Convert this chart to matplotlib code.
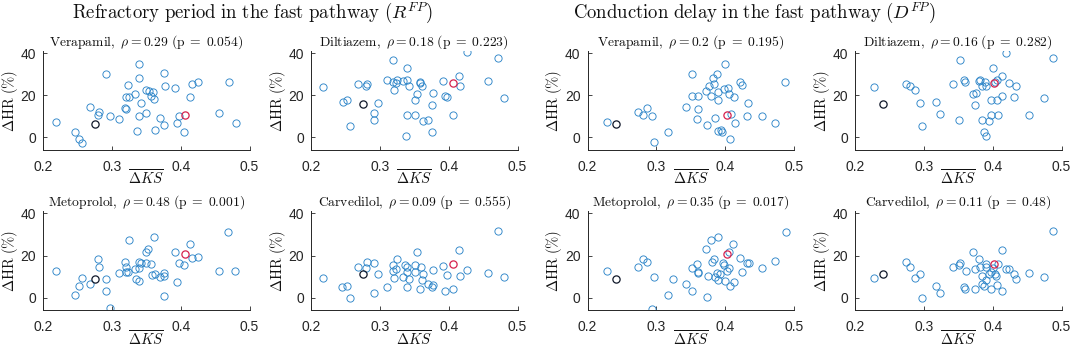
import matplotlib.pyplot as plt

plt.rcParams['mathtext.fontset'] = 'cm'
plt.rcParams['font.family'] = ['Liberation Sans', 'DejaVu Sans']

# --- Data (dKS mean vs. heart-rate change) ---
# Left group: x = dKS for refractory period (R^FP)
ver_R_x = [0.219, 0.246, 0.252, 0.257, 0.268, 0.280, 0.281, 0.291, 0.297, 0.311, 0.319, 0.320, 0.320, 0.324,
           0.325, 0.333, 0.337, 0.339, 0.340, 0.340, 0.342, 0.350, 0.350, 0.354, 0.357, 0.360, 0.361, 0.363,
           0.370, 0.376, 0.377, 0.376, 0.392, 0.394, 0.397, 0.405, 0.414, 0.416, 0.425, 0.456, 0.470, 0.480]
ver_R_y = [7.3, 2.7, -1.0, -2.5, 14.3, 10.5, 11.9, 30.3, 10.2, 8.7, 13.8, 13.6, 19.4, 24.9,
           19.2, 20.5, 3.0, 10.3, 34.9, 28.1, 16.2, 11.4, 22.5, 22.1, 19.5, 21.4, 18.1, 3.5,
           9.0, 30.5, 24.3, 6.0, 23.7, 6.7, 10.2, 2.5, 19.0, 25.2, 26.2, 11.4, 26.2, 7.0]

dil_R_x = [0.218, 0.246, 0.253, 0.257, 0.268, 0.280, 0.282, 0.291, 0.291, 0.297, 0.311, 0.319, 0.319, 0.320,
           0.324, 0.325, 0.333, 0.338, 0.339, 0.340, 0.340, 0.342, 0.351, 0.351, 0.354, 0.358, 0.359, 0.361,
           0.363, 0.370, 0.376, 0.376, 0.377, 0.392, 0.394, 0.397, 0.406, 0.415, 0.416, 0.426, 0.457, 0.471, 0.480]
dil_R_y = [24.0, 16.9, 17.9, 5.5, 25.3, 24.2, 25.3, 11.4, 8.4, 16.1, 27.4, 36.7, 26.3, 22.5,
           25.8, 27.2, 26.6, 0.5, 10.8, 33.2, 27.4, 24.4, 10.4, 17.9, 20.7, 26.3, 25.8, 24.4,
           7.8, 8.2, 15.3, 2.5, 20.9, 26.9, 19.8, 19.0, 10.4, 29.1, 24.5, 40.5, 26.9, 37.7, 18.7]

met_R_x = [0.219, 0.246, 0.252, 0.257, 0.268, 0.280, 0.281, 0.291, 0.291, 0.297, 0.311, 0.319, 0.320, 0.320,
           0.324, 0.325, 0.333, 0.335, 0.339, 0.339, 0.340, 0.342, 0.350, 0.350, 0.353, 0.357, 0.359, 0.361,
           0.363, 0.370, 0.376, 0.376, 0.376, 0.392, 0.394, 0.397, 0.405, 0.414, 0.416, 0.425, 0.456, 0.469, 0.479]
met_R_y = [12.6, 1.1, 5.5, 9.5, 6.3, 18.5, 14.4, 8.7, 3.0, -4.9, 11.8, 16.7, 14.4, 12.0,
           12.0, 27.3, 13.4, 8.7, 13.9, 17.1, 8.1, 16.3, 16.6, 21.6, 23.1, 15.8, 10.6, 28.6,
           11.4, 10.0, 11.5, 10.3, 0.6, 21.8, 7.6, 16.3, 15.5, 25.4, 18.6, 19.1, 12.8, 31.0, 12.8]

car_R_x = [0.218, 0.245, 0.253, 0.257, 0.268, 0.280, 0.282, 0.291, 0.292, 0.297, 0.311, 0.319, 0.319, 0.320,
           0.324, 0.325, 0.333, 0.337, 0.339, 0.340, 0.340, 0.342, 0.351, 0.351, 0.354, 0.358, 0.360, 0.361,
           0.363, 0.370, 0.376, 0.377, 0.377, 0.392, 0.394, 0.397, 0.406, 0.415, 0.416, 0.426, 0.457, 0.471, 0.480]
car_R_y = [9.3, 5.2, 5.7, 0.0, 14.7, 14.2, 16.9, 16.4, 2.4, 11.4, 4.9, 15.6, 12.8, 9.2,
           13.4, 18.5, 10.0, 15.6, 12.2, 14.4, 4.9, 9.0, 15.6, 12.3, 21.8, 4.1, 14.4, 8.4,
           11.2, 6.3, 4.9, 5.8, 13.3, 14.8, 3.2, 10.7, 4.3, 22.7, 10.1, 13.3, 11.5, 31.6, 10.0]

# Right group: x = dKS for conduction delay (D^FP)
ver_D_x = [0.228, 0.274, 0.280, 0.287, 0.294, 0.297, 0.317, 0.343, 0.352, 0.352, 0.359, 0.360, 0.361, 0.372,
           0.374, 0.376, 0.380, 0.382, 0.384, 0.385, 0.388, 0.389, 0.390, 0.390, 0.394, 0.395, 0.398, 0.400,
           0.404, 0.405, 0.407, 0.408, 0.413, 0.414, 0.421, 0.424, 0.433, 0.431, 0.453, 0.473, 0.487]
ver_D_y = [7.3, 11.9, 10.5, 13.8, 10.3, -2.4, 2.7, 14.4, 30.3, 19.5, 8.6, 19.7, 13.7, 22.2,
           5.9, 24.6, 19.5, 28.1, 25.2, 9.0, 30.3, 21.7, 3.0, 17.9, 3.3, 2.7, 22.9, 35.1,
           23.7, 20.6, -0.6, 11.3, 19.0, 6.7, 26.5, 24.9, 16.2, 10.3, 10.3, 7.0, 26.2]

dil_D_x = [0.227, 0.274, 0.280, 0.287, 0.294, 0.297, 0.317, 0.324, 0.343, 0.351, 0.352, 0.359, 0.360, 0.372,
           0.374, 0.376, 0.380, 0.382, 0.384, 0.385, 0.387, 0.389, 0.390, 0.391, 0.395, 0.397, 0.398, 0.401,
           0.404, 0.406, 0.407, 0.408, 0.413, 0.414, 0.420, 0.424, 0.431, 0.434, 0.453, 0.474, 0.488]
dil_D_y = [24.0, 25.3, 24.2, 22.5, 16.1, 5.5, 16.9, 11.1, 25.3, 8.4, 36.7, 27.4, 26.1, 20.7,
           15.3, 20.9, 26.9, 27.4, 24.5, 8.4, 2.5, 26.1, 24.2, 0.6, 7.9, 10.4, 17.9, 33.2,
           26.3, 27.4, 17.9, 10.4, 29.1, 19.8, 40.3, 25.8, 19.0, 24.5, 10.8, 18.7, 37.7]

met_D_x = [0.228, 0.274, 0.280, 0.287, 0.297, 0.294, 0.317, 0.324, 0.343, 0.352, 0.352, 0.359, 0.360, 0.361,
           0.372, 0.375, 0.374, 0.380, 0.381, 0.384, 0.385, 0.388, 0.390, 0.390, 0.392, 0.397, 0.398, 0.400,
           0.403, 0.405, 0.406, 0.407, 0.412, 0.413, 0.421, 0.424, 0.431, 0.434, 0.453, 0.473, 0.488]
met_D_y = [12.8, 14.4, 18.5, 16.7, 9.6, -5.1, 1.1, 8.7, 6.6, 14.2, 3.0, 15.8, 12.0, 11.8,
           22.9, 10.3, 0.5, 27.3, 17.1, 18.5, 9.6, 11.5, 28.6, 8.4, 11.2, 16.6, 15.5, 8.1,
           12.8, 13.9, 21.6, 5.5, 25.4, 7.6, 19.0, 12.2, 16.3, 16.3, 13.9, 17.2, 31.0]

car_D_x = [0.227, 0.274, 0.280, 0.287, 0.294, 0.297, 0.317, 0.324, 0.343, 0.351, 0.352, 0.359, 0.360, 0.361,
           0.372, 0.374, 0.375, 0.380, 0.382, 0.384, 0.385, 0.387, 0.390, 0.391, 0.391, 0.394, 0.397, 0.397,
           0.400, 0.404, 0.405, 0.406, 0.408, 0.413, 0.414, 0.420, 0.424, 0.431, 0.434, 0.453, 0.474, 0.488]
car_D_y = [9.3, 16.9, 14.4, 9.2, 11.4, 0.0, 5.4, 2.4, 14.7, 15.6, 16.4, 4.9, 4.1, 12.8,
           21.8, 4.3, 13.4, 18.5, 14.4, 10.1, 6.5, 5.5, 14.4, 15.8, 8.4, 11.1, 12.3, 4.3,
           13.9, 11.1, 10.1, 5.8, 15.8, 22.7, 3.3, 13.4, 13.4, 11.1, 9.0, 11.8, 10.0, 31.6]

# Two highlighted subjects (dark and red markers)
dark_x = {'R': 0.275, 'D': 0.241}
red_x = {'R': 0.407, 'D': 0.402}
drugs = ['Verapamil', 'Diltiazem', 'Metoprolol', 'Carvedilol']
dark_y = [6.2, 16.0, 8.7, 11.1]
red_y = [10.8, 25.8, 20.6, 16.0]
rho_R = ['0.29', '0.18', '0.48', '0.09']
p_R = ['0.054', '0.223', '0.001', '0.555']
rho_D = ['0.2', '0.16', '0.35', '0.11']
p_D = ['0.195', '0.282', '0.017', '0.48']

data_R = [(ver_R_x, ver_R_y), (dil_R_x, dil_R_y), (met_R_x, met_R_y), (car_R_x, car_R_y)]
data_D = [(ver_D_x, ver_D_y), (dil_D_x, dil_D_y), (met_D_x, met_D_y), (car_D_x, car_D_y)]

W, H = 1072, 349
fig = plt.figure(figsize=(W / 100, H / 100), dpi=100)

lefts_px = [43.0, 311.0, 587.5, 855.0]
width_px = 206.5
rows_px = [(51.2, 149.9), (211.2, 310.4)]  # (top, bottom) in pixels from top

blue = '#2f86c9'
axcol = '#262626'
txtcol = '#111111'

for g, (key, data, rhos, ps) in enumerate([('R', data_R, rho_R, p_R), ('D', data_D, rho_D, p_D)]):
    for k in range(4):
        row, col = divmod(k, 2)
        top, bot = rows_px[row]
        left = lefts_px[2 * g + col]
        ax = fig.add_axes([left / W, 1 - bot / H, width_px / W, (bot - top) / H])
        x, y = data[k]
        ax.plot(x, y, 'o', mfc='none', mec=blue, ms=5.2, mew=0.65)
        ax.plot(dark_x[key], dark_y[k], 'o', mfc='none', mec='#10182a', ms=5.2, mew=0.9)
        ax.plot(red_x[key], red_y[k], 'o', mfc='none', mec='#d6224e', ms=5.2, mew=0.9)
        ax.set_xlim(0.2, 0.5)
        ax.set_ylim(-6, 41)
        ax.set_xticks([0.2, 0.3, 0.4, 0.5])
        ax.set_xticklabels(['0.2', '0.3', '0.4', '0.5'])
        ax.set_yticks([0, 20, 40])
        for s in ['top', 'right']:
            ax.spines[s].set_visible(False)
        for s in ['left', 'bottom']:
            ax.spines[s].set_color(axcol)
            ax.spines[s].set_linewidth(0.7)
        ax.tick_params(direction='in', length=3, width=0.6, colors=axcol, labelsize=10)
        ax.tick_params(axis='x', pad=7)
        ax.tick_params(axis='y', pad=5)
        ax.set_title(r'$\mathrm{%s},\ \rho = %s\ (\mathrm{p}\;=\;%s)$' % (drugs[k], rhos[k], ps[k]),
                     fontsize=9.8, pad=3, color=txtcol)
        ax.set_ylabel(r'$\Delta\mathrm{HR}\ (\%)$', fontsize=10.5, color=txtcol)
        ax.yaxis.set_label_coords(-23 / width_px, 0.5)
        ax.set_xlabel(r'$\overline{\Delta KS}$', fontsize=10.5, color=txtcol)
        ax.xaxis.set_label_coords(0.5, -19 / (bot - top))

fig.text(253 / W, 1 - 18 / H, r'$\mathrm{Refractory\ period\ in\ the\ fast\ pathway}\ (R^{FP})$',
         ha='center', va='baseline', fontsize=13.5, color=txtcol)
fig.text(754 / W, 1 - 18 / H, r'$\mathrm{Conduction\ delay\ in\ the\ fast\ pathway}\ (D^{FP})$',
         ha='center', va='baseline', fontsize=13.5, color=txtcol)

fig.savefig('out.png', dpi=100)
